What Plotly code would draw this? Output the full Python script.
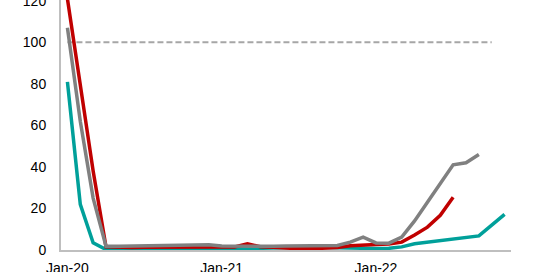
import plotly.graph_objects as go

months = []
for yr in ["20", "21", "22"]:
    for mo in ["Jan", "Feb", "Mar", "Apr", "May", "Jun", "Jul", "Aug", "Sep", "Oct", "Nov", "Dec"]:
        months.append(f"{mo}-{yr}")
months = months[:35]  # Jan-20 .. Nov-22

red_vals = [121, 80, 38, 1.5, 1.2, 1.2, 1.3, 1.3, 1.4, 1.5, 1.5, 1.6, 1.5, 1.5, 3.0, 1.6,
            1.3, 0.8, 0.6, 0.6, 0.8, 1.2, 2.0, 2.5, 2.6, 2.9, 3.8, 7.2, 11, 16.7, 25.4]
gray_vals = [107, 62, 25, 1.8, 1.8, 1.9, 1.9, 1.9, 2.0, 2.0, 2.3, 2.5, 1.9, 1.8, 1.7, 1.8,
             1.8, 1.9, 1.9, 2.0, 2.0, 2.2, 3.8, 6.2, 3.4, 3.3, 6.2, 14, 23, 32, 41, 42, 46]
teal_vals = [81, 22, 3.5, 0.2, 0.3, 0.4, 0.5, 0.5, 0.6, 0.6, 0.7, 0.8, 0.8, 0.6, 0.5, 0.8,
             1.0, 1.2, 1.3, 1.3, 1.2, 1.0, 0.8, 0.8, 0.7, 0.8, 1.5, 3.0, 3.8, 4.6, 5.4, 6.0,
             6.8, 12, 17.2]
ref_vals = [100] * 34  # Jan-20 .. Oct-22

tick_labels = ["Jan-20", "Jan-21", "Jan-22"]
y_ticks = [0, 20, 40, 60, 80, 100, 120]

fig = go.Figure()
fig.add_trace(go.Scatter(x=months[:len(ref_vals)], y=ref_vals, mode="lines",
                         line=dict(color="#a6a6a6", width=2, dash="6px,3px"), hoverinfo="skip"))
fig.add_trace(go.Scatter(x=months[:len(teal_vals)], y=teal_vals, mode="lines",
                         line=dict(color="#00a09a", width=3.5)))
fig.add_trace(go.Scatter(x=months[:len(red_vals)], y=red_vals, mode="lines",
                         line=dict(color="#c00000", width=3.5)))
fig.add_trace(go.Scatter(x=months[:len(gray_vals)], y=gray_vals, mode="lines",
                         line=dict(color="#808080", width=3.5)))

fig.update_layout(
    width=540, height=272,
    margin=dict(l=61, r=29, t=0, b=22),
    paper_bgcolor="white", plot_bgcolor="white",
    showlegend=False,
    font=dict(family="Liberation Sans, Arial, sans-serif", size=14, color="#000000"),
)
fig.update_xaxes(
    type="category", categoryorder="array", categoryarray=months,
    range=[-0.5, len(months) - 0.5], automargin=False,
    tickmode="array", tickvals=tick_labels, ticktext=tick_labels,
    showgrid=False, zeroline=False, showline=True, linecolor="#bfbfbf", linewidth=2,
    ticks="", ticklabelstandoff=4, ticklabeloverflow="allow",
)
fig.update_yaxes(
    range=[0, 120.4], tickvals=y_ticks, showgrid=False, zeroline=False, automargin=False,
    showline=True, linecolor="#bfbfbf", linewidth=2, ticks="", ticklabelstandoff=10,
    ticklabeloverflow="allow",
)

fig.write_html("out.html")
